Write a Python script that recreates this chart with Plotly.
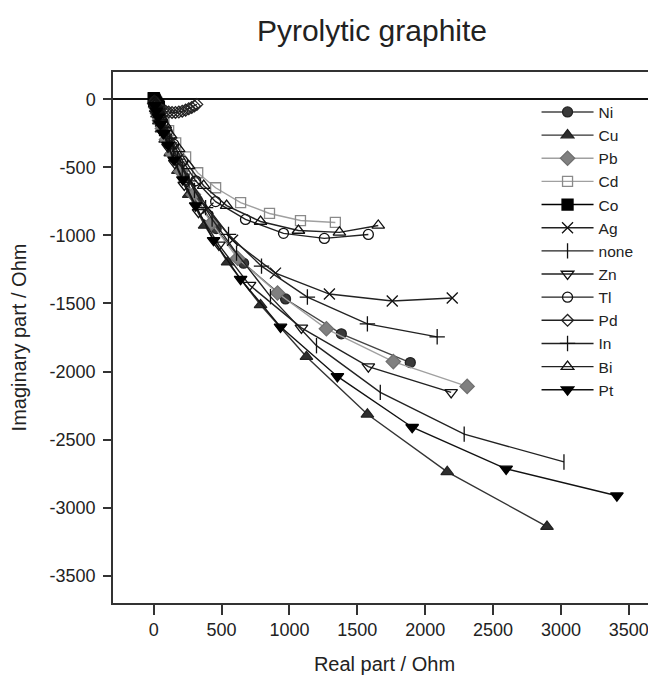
import plotly.graph_objects as go

# ---- data ----
Ni_x = [8, 17, 30, 47, 70, 102, 150, 220, 320, 460, 662, 971, 1382, 1890]
Ni_y = [-35, -70, -115, -170, -235, -320, -430, -570, -740, -950, -1204, -1467, -1723, -1934]

Cu_x = [7, 14, 24, 38, 57, 84, 122, 178, 258, 375, 544, 787, 1125, 1574, 2162, 2897]
Cu_y = [-35, -70, -110, -160, -220, -295, -395, -525, -700, -927, -1197, -1511, -1891, -2314, -2737, -3139]

Pb_x = [7, 15, 28, 43, 64, 94, 137, 200, 292, 425, 618, 912, 1272, 1765, 2309]
Pb_y = [-30, -60, -105, -155, -215, -295, -400, -530, -700, -910, -1168, -1423, -1686, -1927, -2109]

Cd_x = [5, 15, 30, 50, 75, 110, 162, 235, 324, 456, 640, 853, 1081, 1338]
Cd_y = [-15, -35, -70, -110, -160, -230, -321, -423, -540, -650, -759, -839, -891, -905]

Co_x = [0, 2, 5, 8, 12, 17, 23, 30, 38]
Co_y = [8, 2, -4, -10, -17, -25, -34, -44, -55]

Ag_x = [15, 30, 50, 80, 120, 180, 270, 400, 581, 897, 1294, 1757, 2199]
Ag_y = [-55, -100, -160, -230, -320, -440, -600, -800, -1036, -1277, -1431, -1482, -1460]

none_x = [15, 28, 45, 68, 100, 145, 210, 300, 430, 610, 860, 1199, 1669, 2287, 3022]
none_y = [-50, -90, -140, -200, -280, -380, -510, -670, -880, -1130, -1450, -1810, -2153, -2460, -2664]

Zn_x = [17, 30, 47, 70, 105, 155, 225, 330, 480, 706, 1088, 1581, 2191]
Zn_y = [-65, -115, -175, -250, -350, -470, -630, -830, -1070, -1365, -1679, -1964, -2153]

Tl_x = [5, 15, 28, 45, 68, 100, 147, 213, 309, 456, 676, 956, 1257, 1581]
Tl_y = [-15, -45, -80, -120, -170, -240, -330, -453, -599, -752, -883, -985, -1022, -993]

Pd_x = [5, 12, 22, 35, 50, 68, 88, 110, 135, 160, 185, 210, 235, 258, 280, 300, 318]
Pd_y = [-15, -32, -48, -62, -73, -82, -89, -94, -97, -97, -94, -88, -80, -70, -60, -49, -38]

In_x = [15, 30, 48, 75, 115, 175, 260, 382, 551, 794, 1132, 1574, 2088]
In_y = [-55, -100, -160, -230, -320, -440, -600, -796, -993, -1226, -1453, -1650, -1745]

Bi_x = [5, 12, 20, 35, 55, 85, 125, 184, 257, 368, 537, 787, 1066, 1368, 1654]
Bi_y = [-15, -30, -50, -85, -130, -190, -265, -365, -489, -635, -781, -898, -964, -978, -927]

Pt_x = [10, 20, 33, 50, 72, 105, 150, 215, 309, 441, 640, 934, 1353, 1904, 2596, 3412]
Pt_y = [-45, -85, -130, -185, -250, -335, -445, -590, -781, -1036, -1321, -1672, -2036, -2409, -2715, -2912]

x_ticks = [0, 500, 1000, 1500, 2000, 2500, 3000, 3500]
y_ticks = [0, -500, -1000, -1500, -2000, -2500, -3000, -3500]

FONT = "Liberation Sans, Arial, sans-serif"

series = [
    ("Ni", Ni_x, Ni_y, "circle", "#3a3a3a", "#222222", "#444444", 10),
    ("Cu", Cu_x, Cu_y, "triangle-up", "#2e2e2e", "#222222", "#333333", 11),
    ("Pb", Pb_x, Pb_y, "diamond", "#808080", "#707070", "#a0a0a0", 11),
    ("Cd", Cd_x, Cd_y, "square-open", "#8a8a8a", "#8a8a8a", "#a0a0a0", 10),
    ("Co", Co_x, Co_y, "square", "#000000", "#000000", "#000000", 11),
    ("Ag", Ag_x, Ag_y, "x-thin-open", "#111111", "#111111", "#222222", 11),
    ("none", none_x, none_y, "line-ns-open", "#111111", "#111111", "#222222", 11),
    ("Zn", Zn_x, Zn_y, "triangle-down-open", "#111111", "#111111", "#222222", 11),
    ("Tl", Tl_x, Tl_y, "circle-open", "#111111", "#111111", "#222222", 10),
    ("Pd", Pd_x, Pd_y, "diamond-open", "#222222", "#222222", "#222222", 9),
    ("In", In_x, In_y, "cross-thin-open", "#111111", "#111111", "#222222", 11),
    ("Bi", Bi_x, Bi_y, "triangle-up-open", "#111111", "#111111", "#222222", 11),
    ("Pt", Pt_x, Pt_y, "triangle-down", "#000000", "#000000", "#111111", 11),
]

fig = go.Figure()
for name, xs, ys, sym, fill, mline, lcol, size in series:
    fig.add_trace(go.Scatter(
        x=xs, y=ys, name=name, mode="lines+markers", legendgroup=name,
        line=dict(color=lcol, width=1.4),
        marker=dict(symbol=sym, size=size, color=fill,
                    line=dict(color=mline, width=1.3)),
    ))

fig.update_layout(
    width=656, height=679, autosize=False,
    margin=dict(l=105, r=8, t=64, b=84, autoexpand=False),
    paper_bgcolor="white", plot_bgcolor="white",
    font=dict(family=FONT, color="#222222"),
    title=dict(text="Pyrolytic graphite", x=364 / 656, xanchor="center",
               y=1 - 22 / 679, yanchor="middle",
               font=dict(size=30, family=FONT, color="#222222")),
    showlegend=True,
    legend=dict(x=0.78, xanchor="left", y=0.956, yanchor="top",
                bgcolor="rgba(0,0,0,0)", font=dict(size=15.5, family=FONT),
                itemwidth=52, tracegroupgap=3, traceorder="normal"),
)
fig.update_xaxes(
    range=[-300, 3700], tickvals=x_ticks, ticktext=[str(v) for v in x_ticks],
    showgrid=False, zeroline=False, showline=True, linecolor="#333333",
    linewidth=1.5, mirror=True, ticks="outside", ticklen=10, tickwidth=1.5,
    tickcolor="#333333", tickfont=dict(size=18, family=FONT), automargin=False,
    title=dict(text="Real part / Ohm", font=dict(size=20, family=FONT), standoff=18),
)
fig.update_yaxes(
    range=[-3700, 200], tickvals=y_ticks, ticktext=[str(v) for v in y_ticks],
    showgrid=False, zeroline=True, zerolinecolor="#111111", zerolinewidth=2,
    showline=True, linecolor="#333333", linewidth=1.5, mirror=False,
    ticks="outside", ticklen=8, tickwidth=1.5, tickcolor="#333333",
    tickfont=dict(size=18, family=FONT), ticklabelstandoff=4, automargin=False,
    title=dict(text="Imaginary part / Ohm", font=dict(size=20, family=FONT), standoff=22),
)

fig.write_html("out.html")
